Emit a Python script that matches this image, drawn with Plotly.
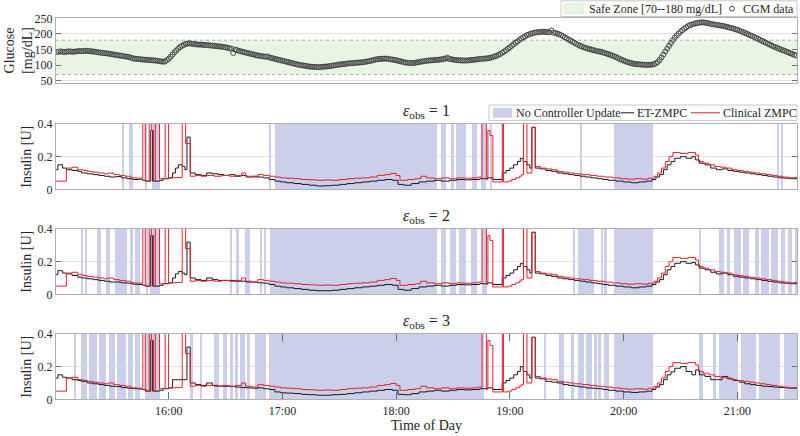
import plotly.graph_objects as go

# ---------------- data (time in minutes after 15:00) ----------------
X_RANGE = [0.5, 391.5]
TICK_VALS = [60, 120, 180, 240, 300, 360]
TICK_TEXT = ["16:00", "17:00", "18:00", "19:00", "20:00", "21:00"]

GLUCOSE_TICKS = [50, 100, 150, 200, 250]
GLUCOSE_RANGE = [42, 250]
SAFE_LOW, SAFE_HIGH = 70, 180
INSULIN_TICKS = [0, 0.2, 0.4]
INSULIN_TICKTEXT = ["0", "0.2", "0.4"]
INSULIN_RANGE = [0, 0.4]

# CGM samples, one per minute starting at minute 1
CGM_START, CGM_STEP = 1, 1
CGM_GLUCOSE = [
    143, 143, 144, 143, 142, 143, 144, 144, 143, 143,
    144, 145, 145, 145, 145, 146, 146, 145, 144, 144,
    143, 142, 141, 140, 139, 139, 138, 137, 136, 135,
    134, 133, 132, 131, 130, 129, 128, 127, 126, 124,
    122, 121, 120, 120, 119, 118, 118, 117, 117, 116,
    116, 115, 115, 114, 113, 112, 111, 112, 116, 121,
    127, 134, 141, 147, 153, 158, 162, 165, 168, 169,
    170, 169, 168, 167, 166, 166, 166, 165, 165, 164,
    164, 163, 162, 162, 161, 160, 160, 159, 158, 157,
    156, 154, 153, 139, 150, 148, 146, 144, 143, 141,
    140, 138, 137, 135, 134, 132, 131, 130, 129, 128,
    127, 128, 125, 123, 122, 120, 119, 117, 116, 114,
    113, 111, 110, 108, 107, 105, 104, 102, 101, 100,
    99, 98, 97, 96, 95, 95, 94, 94, 94, 94,
    95, 95, 96, 96, 97, 98, 99, 100, 101, 102,
    103, 103, 104, 105, 106, 106, 107, 107, 108, 108,
    109, 109, 110, 111, 112, 113, 115, 116, 118, 119,
    120, 120, 121, 121, 121, 120, 119, 118, 117, 116,
    114, 113, 111, 110, 108, 108, 107, 107, 107, 108,
    109, 110, 111, 112, 113, 114, 115, 115, 116, 116,
    117, 117, 118, 119, 120, 121, 124, 120, 119, 118,
    117, 116, 116, 115, 115, 115, 115, 115, 116, 117,
    117, 118, 119, 120, 120, 121, 121, 122, 123, 124,
    126, 128, 130, 133, 136, 140, 144, 148, 153, 157,
    162, 167, 172, 176, 181, 185, 189, 192, 196, 198,
    201, 202, 204, 205, 206, 206, 207, 207, 206, 206,
    205, 211, 204, 203, 201, 199, 196, 193, 189, 186,
    182, 179, 175, 172, 168, 165, 162, 160, 157, 155,
    153, 152, 150, 148, 147, 145, 144, 143, 141, 139,
    137, 135, 133, 131, 128, 126, 123, 120, 117, 115,
    112, 110, 108, 107, 105, 104, 103, 103, 102, 102,
    101, 101, 101, 101, 102, 103, 106, 110, 117, 125,
    134, 144, 153, 162, 171, 180, 188, 195, 201, 207,
    212, 217, 221, 225, 228, 230, 232, 234, 235, 236,
    237, 237, 236, 235, 234, 232, 231, 230, 229, 228,
    227, 226, 225, 223, 222, 220, 219, 217, 215, 213,
    211, 208, 206, 203, 201, 198, 195, 193, 190, 187,
    184, 181, 178, 175, 172, 169, 166, 163, 160, 158,
    155, 153, 150, 148, 146, 143, 141, 138, 136, 133,
    131,
]

# Clinical ZMPC (same in all panels): step change times and values
CLIN_T = [
    0.5, 6, 9, 12, 15, 17, 20, 23, 26, 28, 31, 34, 37, 40, 43,
    46.3, 47.6, 49.7, 50.8, 52.0, 52.9, 55.1, 58.1, 59.9, 63, 67.1, 68.9, 71.4,
    74, 77, 80, 84, 88, 92, 95, 98.5, 100.5, 104, 107, 110, 113, 116, 119, 122,
    126, 130, 134, 138, 142, 146, 150, 154, 158, 162, 166, 170, 174, 177, 180,
    182, 186, 190, 193, 196, 200, 204, 208, 212, 216, 220, 223,
    225.3, 227.6, 228.4, 229.5, 231, 236, 236.6, 239, 241, 243, 245, 246, 247.2,
    249, 251.6, 253.4, 256, 259, 262, 265, 268, 271, 274, 278, 282, 286, 290,
    294, 298, 302, 306, 310, 313, 316, 318, 320, 322, 324, 326, 330, 334, 338,
    339.5, 342, 345, 348, 351, 354, 357, 360, 363, 366, 369, 372, 375, 378, 381,
    384, 387, 390, 391.5,
]
CLIN_U = [
    0.05, 0.13, 0.135, 0.12, 0.115, 0.11, 0.105, 0.1, 0.095, 0.1, 0.09, 0.085, 0.08, 0.07, 0.068,
    0.6, 0.05, 0.6, 0.36, 0.05, 0.6, 0.065, 0.6, 0.07, 0.072, 0.6, 0.28, 0.08,
    0.085, 0.08, 0.085, 0.08, 0.085, 0.08, 0.085, 0.1, 0.08, 0.075, 0.09, 0.085, 0.08, 0.075, 0.07, 0.068,
    0.065, 0.06, 0.058, 0.055, 0.057, 0.055, 0.06, 0.065, 0.068, 0.07, 0.075, 0.085, 0.09, 0.097, 0.085,
    0.055, 0.06, 0.065, 0.08, 0.07, 0.065, 0.07, 0.065, 0.07, 0.068, 0.07, 0.075,
    0.6, 0.06, 0.36, 0.33, 0.045, 0.6, 0.045, 0.05, 0.06, 0.07, 0.08, 0.09, 0.6,
    0.1, 0.38, 0.14, 0.13, 0.125, 0.12, 0.11, 0.105, 0.1, 0.095, 0.09, 0.085, 0.08, 0.075,
    0.07, 0.065, 0.062, 0.065, 0.062, 0.068, 0.08, 0.1, 0.13, 0.17, 0.2, 0.225, 0.22, 0.225, 0.21,
    0.17, 0.16, 0.15, 0.14, 0.135, 0.13, 0.12, 0.115, 0.11, 0.105, 0.1, 0.095, 0.09, 0.085, 0.08,
    0.075, 0.07, 0.072, 0.072,
]

# ET-ZMPC: step change times and values per panel (eps_obs = 1, 2, 3)
ET_T = [
    0.5, 1.5, 4, 6, 9, 12, 14, 17, 20, 23, 26, 29, 32, 35, 38, 41, 44, 46.3, 48, 50.5,
    51.5, 55.1, 57, 60, 62, 63.5, 65, 67, 68.5, 69.6, 71.3, 74, 77, 80, 83, 86, 89, 92, 95, 98,
    101, 104, 107, 110, 113, 116, 119, 122, 126, 130, 134, 138, 142, 146, 150, 154, 158, 162, 166, 170,
    174, 178, 181, 184, 188, 192, 196, 200, 204, 208, 212, 216, 220, 224, 228, 231, 236, 238, 240, 242,
    244, 245.5, 247, 249, 250.5, 251.6, 253.4, 256, 259, 262, 265, 268, 271, 274, 277, 280, 283, 286, 289, 292,
    296, 300, 304, 308, 312, 315, 317, 319, 321, 323, 325, 327, 330, 333, 336, 338, 340, 343, 346, 349,
    352, 355, 358, 361, 364, 367, 370, 373, 376, 379, 382, 385, 388, 391.5,
]
ET_U1 = [
    0.12, 0.15, 0.13, 0.12, 0.115, 0.11, 0.1, 0.095, 0.09, 0.085, 0.08, 0.075, 0.078, 0.07, 0.065, 0.06, 0.062, 0.055, 0.05, 0.36,
    0.05, 0.055, 0.065, 0.07, 0.1, 0.13, 0.15, 0.14, 0.12, 0.32, 0.1, 0.09, 0.085, 0.1, 0.095, 0.09, 0.085, 0.09, 0.08, 0.085,
    0.075, 0.08, 0.075, 0.07, 0.06, 0.05, 0.045, 0.04, 0.035, 0.03, 0.025, 0.02, 0.022, 0.025, 0.03, 0.035, 0.04, 0.045, 0.05, 0.055,
    0.06, 0.055, 0.03, 0.025, 0.035, 0.045, 0.05, 0.055, 0.05, 0.055, 0.06, 0.058, 0.06, 0.065, 0.07, 0.06, 0.1, 0.115, 0.13, 0.15,
    0.17, 0.19, 0.17, 0.15, 0.13, 0.38, 0.13, 0.125, 0.115, 0.11, 0.1, 0.095, 0.09, 0.085, 0.08, 0.075, 0.07, 0.065, 0.06, 0.055,
    0.05, 0.045, 0.04, 0.045, 0.05, 0.06, 0.075, 0.09, 0.12, 0.15, 0.17, 0.19, 0.2, 0.19, 0.2, 0.18, 0.16, 0.15, 0.13, 0.12,
    0.125, 0.115, 0.11, 0.105, 0.1, 0.095, 0.09, 0.085, 0.08, 0.075, 0.07, 0.068, 0.065, 0.065,
]
ET_U2 = [
    0.12, 0.145, 0.13, 0.125, 0.115, 0.105, 0.1, 0.095, 0.09, 0.085, 0.08, 0.075, 0.075, 0.07, 0.068, 0.062, 0.06, 0.055, 0.05, 0.36,
    0.05, 0.055, 0.065, 0.07, 0.1, 0.125, 0.14, 0.13, 0.12, 0.32, 0.1, 0.09, 0.085, 0.1, 0.09, 0.085, 0.085, 0.085, 0.08, 0.08,
    0.075, 0.075, 0.07, 0.068, 0.06, 0.05, 0.045, 0.04, 0.035, 0.03, 0.025, 0.022, 0.022, 0.025, 0.03, 0.035, 0.04, 0.045, 0.05, 0.055,
    0.06, 0.055, 0.03, 0.025, 0.035, 0.045, 0.05, 0.055, 0.05, 0.055, 0.06, 0.058, 0.06, 0.065, 0.07, 0.06, 0.1, 0.115, 0.13, 0.15,
    0.17, 0.19, 0.17, 0.15, 0.13, 0.38, 0.13, 0.125, 0.115, 0.11, 0.1, 0.095, 0.09, 0.085, 0.08, 0.075, 0.07, 0.065, 0.06, 0.055,
    0.05, 0.045, 0.04, 0.045, 0.05, 0.06, 0.075, 0.09, 0.12, 0.15, 0.17, 0.19, 0.2, 0.19, 0.195, 0.18, 0.16, 0.15, 0.135, 0.125,
    0.13, 0.12, 0.11, 0.105, 0.1, 0.095, 0.09, 0.085, 0.08, 0.075, 0.07, 0.068, 0.065, 0.065,
]
ET_U3 = [
    0.13, 0.15, 0.135, 0.13, 0.12, 0.115, 0.11, 0.1, 0.095, 0.09, 0.085, 0.08, 0.078, 0.072, 0.068, 0.065, 0.063, 0.06, 0.05, 0.36,
    0.05, 0.055, 0.065, 0.07, 0.12, 0.12, 0.12, 0.12, 0.12, 0.32, 0.1, 0.09, 0.085, 0.1, 0.085, 0.08, 0.08, 0.078, 0.075, 0.072,
    0.07, 0.068, 0.07, 0.065, 0.06, 0.045, 0.04, 0.038, 0.035, 0.03, 0.028, 0.025, 0.025, 0.028, 0.03, 0.035, 0.04, 0.045, 0.05, 0.055,
    0.06, 0.055, 0.03, 0.028, 0.035, 0.045, 0.05, 0.055, 0.05, 0.055, 0.06, 0.058, 0.06, 0.065, 0.07, 0.06, 0.1, 0.115, 0.13, 0.15,
    0.17, 0.2, 0.17, 0.15, 0.13, 0.38, 0.13, 0.125, 0.11, 0.105, 0.1, 0.09, 0.085, 0.08, 0.075, 0.07, 0.068, 0.065, 0.06, 0.055,
    0.05, 0.045, 0.042, 0.045, 0.05, 0.06, 0.075, 0.09, 0.12, 0.15, 0.168, 0.19, 0.2, 0.17, 0.15, 0.18, 0.15, 0.14, 0.12, 0.12,
    0.14, 0.125, 0.115, 0.105, 0.095, 0.09, 0.085, 0.08, 0.078, 0.075, 0.072, 0.07, 0.068, 0.068,
]

# "No Controller Update" intervals per panel (start, end in minutes after 15:00)
NCU1_START = [35.3, 39.1, 47.6, 51.1, 112.7, 116.3, 203.5, 208.8, 211.4, 220.2, 224.6, 229.5, 277.0, 295.0, 381.0, 383.0]
NCU1_END = [36.5, 41.1, 48.5, 55.5, 114.0, 201.7, 206.1, 210.5, 216.7, 222.5, 227.4, 230.4, 278.0, 315.7, 382.0, 384.0]
NCU2_START = [13.6, 15.9, 22.0, 27.0, 31.7, 39.3, 42.3, 47.9, 50.2, 92.1, 95.7, 100.4, 108.0, 110.1, 113.3, 203.5,
              208.4, 213.2, 219.3, 225.5, 273.1, 275.7, 288.0, 289.8, 295.0, 339.7, 350.6, 354.7, 358.5, 362.9,
              369.1, 372.6, 378.0, 382.8, 386.7, 390.6]
NCU2_END = [14.6, 17.1, 24.3, 29.0, 37.9, 41.1, 44.6, 48.8, 55.5, 93.2, 96.9, 102.7, 109.0, 111.5, 201.7, 206.1,
            211.4, 216.7, 222.5, 227.8, 274.3, 284.5, 288.9, 291.0, 315.7, 340.9, 353.2, 355.9, 361.7, 366.4,
            371.7, 376.5, 381.5, 385.0, 388.8, 392.0]
NCU3_START = [10.0, 13.7, 18.1, 23.3, 28.2, 32.9, 38.7, 42.3, 47.6, 71.4, 76.6, 83.7, 88.6, 92.1, 95.1, 97.8, 101.3,
              105.7, 112.7, 258.1, 266.0, 272.2, 275.7, 280.1, 284.5, 286.6, 289.8, 294.7, 339.7, 347.1, 350.6,
              362.1, 371.7, 384.6]
NCU3_END = [11.1, 17.1, 22.0, 27.0, 31.7, 37.5, 41.1, 44.9, 55.5, 72.8, 77.7, 86.3, 90.7, 93.9, 96.4, 100.4, 103.1,
            111.5, 226.4, 259.3, 268.3, 273.9, 279.2, 283.1, 285.9, 288.0, 292.4, 315.7, 341.8, 348.5, 360.3,
            370.0, 382.3, 392.0]

EPS_VALUES = [1, 2, 3]
LEGEND1_LABELS = ["Safe Zone [70--180 mg/dL]", "CGM data"]
LEGEND2_LABELS = ["No Controller Update", "ET-ZMPC", "Clinical ZMPC"]

# ---------------- styling ----------------
W, H = 800, 436
FONT = "Liberation Serif"
TXT = "#262626"
RED = "#e8202a"
BLACK = "#1a1a1a"
MARKER = "#3c3c3c"
NCU_COLOR = "rgb(203,207,234)"
SAFE_FILL = "rgb(232,245,226)"
GRID = "rgb(226,226,226)"
BOX = "rgb(175,175,175)"
LEG_BORDER = "rgb(200,200,200)"

XDOM = [56 / W, 797 / W]
PANEL_PX = [(18.3, 83.3), (124, 189.3), (229, 294.3), (334, 399.3)]
YDOMS = [[1 - b / H, 1 - t / H] for t, b in PANEL_PX]

assert len(ET_T) == len(ET_U1) == len(ET_U2) == len(ET_U3)
assert len(CLIN_T) == len(CLIN_U)


def px(xp):
    return xp / W


def py(yp):
    return 1 - yp / H


fig = go.Figure()

cgm_time = [CGM_START + CGM_STEP * i for i in range(len(CGM_GLUCOSE))]

# glucose panel
fig.add_trace(go.Scatter(x=X_RANGE, y=[SAFE_LOW, SAFE_LOW], mode="lines",
                         line=dict(color="rgb(150,150,150)", width=0.8, dash="dot"),
                         showlegend=False, hoverinfo="skip", xaxis="x", yaxis="y"))
fig.add_trace(go.Scatter(x=X_RANGE, y=[SAFE_HIGH, SAFE_HIGH], mode="lines", fill="tonexty",
                         fillcolor=SAFE_FILL,
                         line=dict(color="rgb(150,150,150)", width=0.8, dash="dot"),
                         name=LEGEND1_LABELS[0], showlegend=False,
                         hoverinfo="skip", xaxis="x", yaxis="y"))
fig.add_trace(go.Scatter(x=cgm_time, y=CGM_GLUCOSE, mode="markers",
                         marker=dict(symbol="circle-open", size=5, color=MARKER, line=dict(width=0.9)),
                         name=LEGEND1_LABELS[1], showlegend=False, xaxis="x", yaxis="y"))

ncu = [(NCU1_START, NCU1_END), (NCU2_START, NCU2_END), (NCU3_START, NCU3_END)]
ets = [ET_U1, ET_U2, ET_U3]
for k in range(3):
    xa, ya = f"x{k + 2}", f"y{k + 2}"
    starts, ends = ncu[k]
    fig.add_trace(go.Bar(
        x=[(s + e) / 2 for s, e in zip(starts, ends)],
        y=[INSULIN_RANGE[1]] * len(starts),
        width=[e - s for s, e in zip(starts, ends)],
        base=0, marker=dict(color=NCU_COLOR, line=dict(width=0)),
        name=LEGEND2_LABELS[0], showlegend=False, hoverinfo="skip", xaxis=xa, yaxis=ya))
    fig.add_trace(go.Scatter(x=ET_T, y=ets[k], mode="lines",
                             line=dict(shape="hv", color=BLACK, width=1),
                             name=LEGEND2_LABELS[1], showlegend=False, xaxis=xa, yaxis=ya))
    fig.add_trace(go.Scatter(x=CLIN_T, y=CLIN_U, mode="lines",
                             line=dict(shape="hv", color=RED, width=1),
                             name=LEGEND2_LABELS[2], showlegend=False, xaxis=xa, yaxis=ya))

axis_font = dict(family=FONT, size=12, color=TXT)

layout = dict(
    width=W, height=H, autosize=False,
    margin=dict(l=0, r=0, t=0, b=0, autoexpand=False),
    paper_bgcolor="white", plot_bgcolor="white",
    barmode="overlay", bargap=0,
    hovermode=False, showlegend=False,
    font=dict(family=FONT, size=12, color=TXT),
)

for i in range(4):
    sx = "" if i == 0 else str(i + 1)
    is_bottom = (i == 3)
    layout[f"xaxis{sx}"] = dict(
        domain=XDOM, range=X_RANGE, anchor=f"y{sx}", automargin=False,
        showgrid=False, zeroline=False,
        showline=True, linecolor=BOX, linewidth=1, mirror=("ticks" if is_bottom else True),
        ticks=("inside" if is_bottom else ""), ticklen=7, tickcolor="rgb(110,110,110)",
        tickvals=TICK_VALS, ticktext=TICK_TEXT, showticklabels=is_bottom,
        tickfont=axis_font,
    )
    if i == 0:
        ydict = dict(range=GLUCOSE_RANGE, tickvals=GLUCOSE_TICKS,
                     ticktext=[str(v) for v in GLUCOSE_TICKS])
    else:
        ydict = dict(range=INSULIN_RANGE, tickvals=INSULIN_TICKS, ticktext=INSULIN_TICKTEXT)
    ydict.update(
        domain=YDOMS[i], anchor=f"x{sx}", automargin=False,
        showgrid=True, gridcolor=GRID, gridwidth=1, zeroline=False,
        showline=True, linecolor=BOX, linewidth=1, mirror="ticks",
        ticks="inside", ticklen=5, tickcolor="rgb(110,110,110)",
        tickfont=axis_font,
    )
    layout[f"yaxis{sx}"] = ydict

xc = (XDOM[0] + XDOM[1]) / 2
ann = []
shapes = []
lab_font = dict(family=FONT, size=14, color=TXT)
leg_font = dict(family=FONT, size=12, color=TXT)

ann.append(dict(text="Glucose<br>[mg/dL]", x=px(19), y=py(50.8), xref="paper", yref="paper",
                showarrow=False, textangle=-90, xanchor="center", yanchor="middle", font=lab_font))
for k in range(3):
    top, bot = PANEL_PX[k + 1]
    ann.append(dict(text="Insulin [U]", x=px(27), y=py((top + bot) / 2), xref="paper", yref="paper",
                    showarrow=False, textangle=-90, xanchor="center", yanchor="middle", font=lab_font))
    ann.append(dict(text=f"<i>ε</i><sub>obs</sub> = {EPS_VALUES[k]}", x=xc, y=py(top),
                    xref="paper", yref="paper", showarrow=False, xanchor="center", yanchor="bottom",
                    yshift=1, font=dict(family=FONT, size=16, color=TXT)))
ann.append(dict(text="Time of Day", x=xc, y=py(425), xref="paper", yref="paper",
                showarrow=False, xanchor="center", yanchor="middle", font=lab_font))

# ---- legend 1 (glucose) ----
shapes.append(dict(type="rect", xref="paper", yref="paper", x0=px(561), x1=px(797), y0=py(16.5), y1=py(0.8),
                   fillcolor="white", line=dict(color=LEG_BORDER, width=1), layer="above"))
shapes.append(dict(type="rect", xref="paper", yref="paper", x0=px(564), x1=px(584), y0=py(13.5), y1=py(3.8),
                   fillcolor=SAFE_FILL, line=dict(color="rgb(205,222,198)", width=0.6), layer="above"))
ann.append(dict(text=LEGEND1_LABELS[0], x=px(587), y=py(8.7), xref="paper", yref="paper", showarrow=False,
                xanchor="left", yanchor="middle", font=leg_font))
shapes.append(dict(type="circle", xref="paper", yref="paper", x0=px(729.6), x1=px(734.4), y0=py(11.1), y1=py(6.3),
                   fillcolor="rgba(0,0,0,0)", line=dict(color=MARKER, width=1), layer="above"))
ann.append(dict(text=LEGEND1_LABELS[1], x=px(741), y=py(8.7), xref="paper", yref="paper", showarrow=False,
                xanchor="left", yanchor="middle", font=leg_font))

# ---- legend 2 (insulin) ----
ly = 112.8
shapes.append(dict(type="rect", xref="paper", yref="paper", x0=px(489), x1=px(797), y0=py(120.5), y1=py(105),
                   fillcolor="white", line=dict(color=LEG_BORDER, width=1), layer="above"))
shapes.append(dict(type="rect", xref="paper", yref="paper", x0=px(493), x1=px(512), y0=py(117.8), y1=py(107.8),
                   fillcolor=NCU_COLOR, line=dict(width=0), layer="above"))
ann.append(dict(text=LEGEND2_LABELS[0], x=px(514), y=py(ly), xref="paper", yref="paper", showarrow=False,
                xanchor="left", yanchor="middle", font=leg_font))
shapes.append(dict(type="line", xref="paper", yref="paper", x0=px(621), x1=px(634), y0=py(ly), y1=py(ly),
                   line=dict(color=BLACK, width=1), layer="above"))
ann.append(dict(text=LEGEND2_LABELS[1], x=px(635), y=py(ly), xref="paper", yref="paper", showarrow=False,
                xanchor="left", yanchor="middle", font=leg_font))
shapes.append(dict(type="line", xref="paper", yref="paper", x0=px(691), x1=px(720), y0=py(ly), y1=py(ly),
                   line=dict(color=RED, width=1), layer="above"))
ann.append(dict(text=LEGEND2_LABELS[2], x=px(721), y=py(ly), xref="paper", yref="paper", showarrow=False,
                xanchor="left", yanchor="middle", font=leg_font))

layout["annotations"] = ann
layout["shapes"] = shapes

fig.update_layout(**layout)
fig.write_html("out.html",
               config={"displayModeBar": False, "staticPlot": True},
               post_script="document.body.style.margin='0px';document.body.style.padding='0px';")
